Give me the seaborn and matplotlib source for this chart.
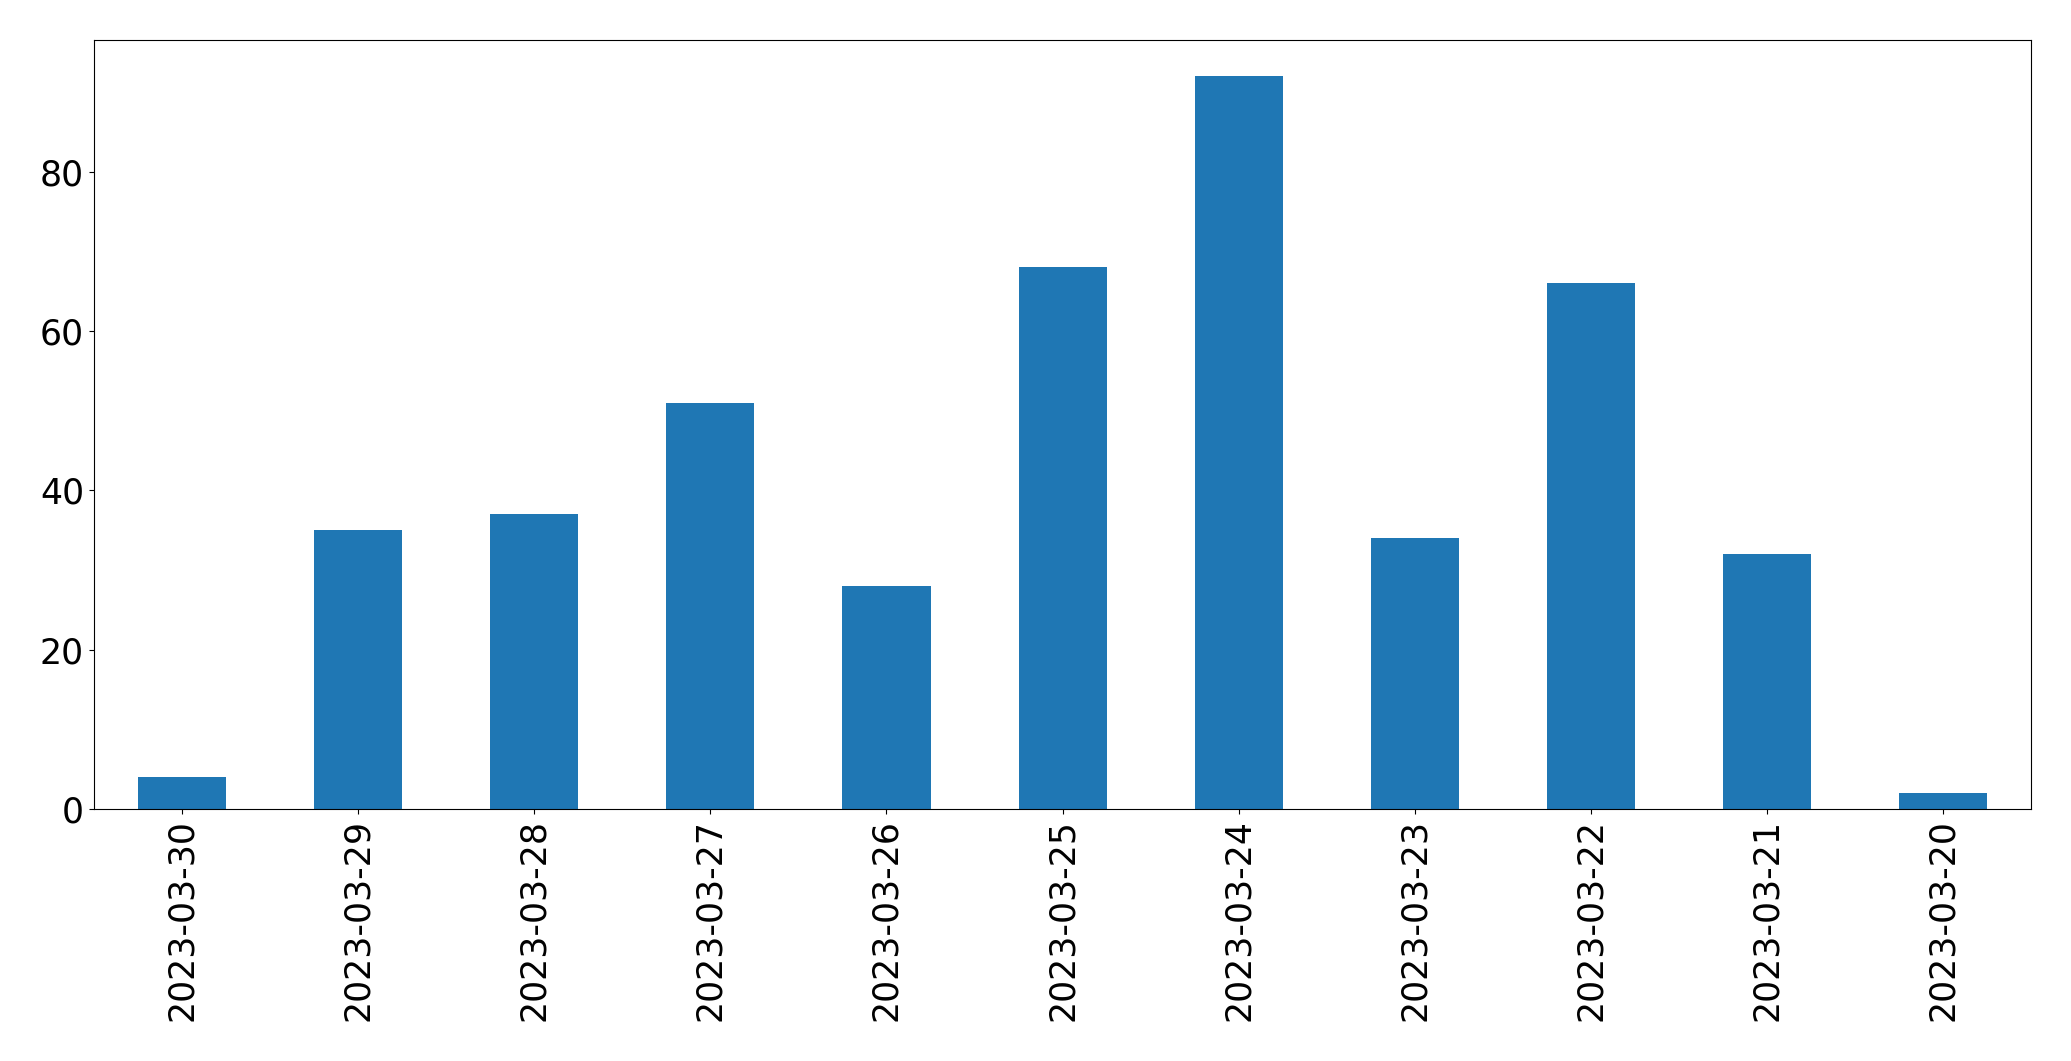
import matplotlib
matplotlib.use("Agg")
import matplotlib.pyplot as plt
import seaborn as sns
import pandas as pd

dates = ["2023-03-30", "2023-03-29", "2023-03-28", "2023-03-27", "2023-03-26",
         "2023-03-25", "2023-03-24", "2023-03-23", "2023-03-22", "2023-03-21",
         "2023-03-20"]
counts = [4, 35, 37, 51, 28, 68, 92, 34, 66, 32, 2]

df = pd.DataFrame({"date": dates, "count": counts})

fig = plt.figure(figsize=(20.71, 10.61), dpi=100)
ax = fig.add_axes([0.0453, 0.2375, 0.9356, 0.7252])
sns.barplot(data=df, x="date", y="count", order=dates, color="#1f77b4",
            saturation=1, width=0.5, linewidth=0, ax=ax)
ax.set_xlabel("")
ax.set_ylabel("")
ax.set_yticks([0, 20, 40, 60, 80])
ax.tick_params(axis="both", labelsize=25)
ax.tick_params(axis="x", labelrotation=90)
ax.set_xlim(-0.5, len(dates) - 0.5)
fig.savefig("out.png", dpi=100)
